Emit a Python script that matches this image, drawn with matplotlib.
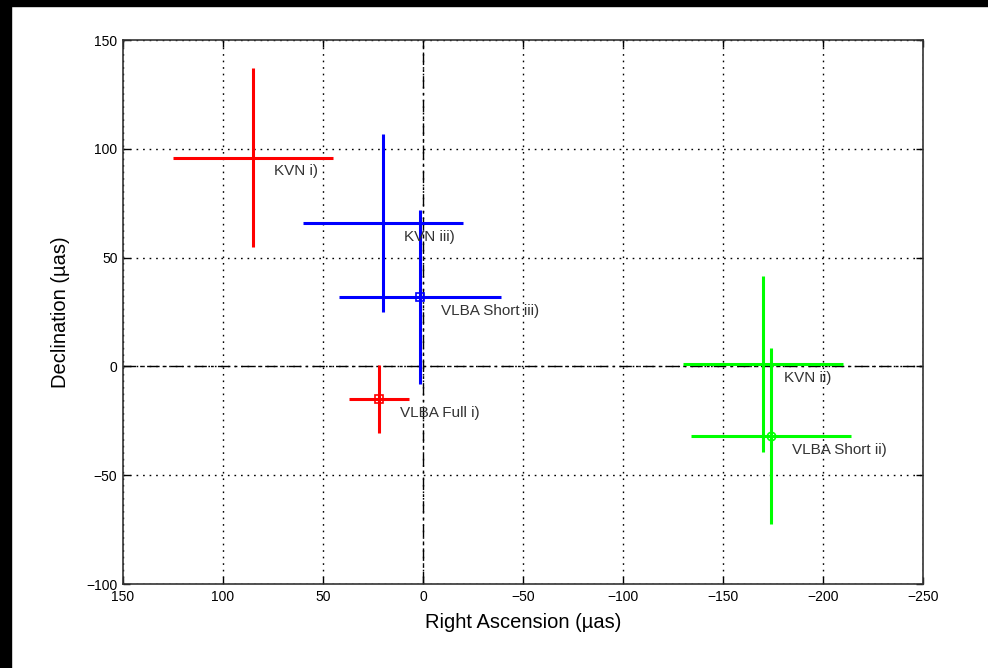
import matplotlib
matplotlib.use("Agg")
import matplotlib.pyplot as plt
from matplotlib.patches import Rectangle

plt.rcParams['font.family'] = ['Liberation Sans', 'DejaVu Sans']

labels = ["KVN i)", "KVN iii)", "VLBA Short iii)", "VLBA Full i)", "KVN ii)", "VLBA Short ii)"]
ra = [85, 20, 1.5, 22, -170, -174]
dec = [96, 66, 32, -15, 1, -32]
ra_err = [40, 40, 40.5, 15, 40, 40]
dec_err = [41, 41, 40, 15.5, 40.5, 40.5]
colors = ["#ff0000", "#0000ff", "#0000ff", "#ff0000", "#00ff00", "#00ff00"]
markers = [None, None, "s", "s", None, "o"]

xticks = [150, 100, 50, 0, -50, -100, -150, -200, -250]
yticks = [-100, -50, 0, 50, 100, 150]

fig = plt.figure(figsize=(9.88, 6.68), dpi=100)
ax = fig.add_axes([123/988, 1-584/668, (923-123)/988, (584-40)/668])

ax.axhline(0, color='black', linestyle=(0, (9, 3, 2, 3)), linewidth=1.0, zorder=1)
ax.axvline(0, color='black', linestyle=(0, (9, 3, 2, 3)), linewidth=1.0, zorder=1)

for i in range(len(labels)):
    ax.errorbar(ra[i], dec[i], xerr=ra_err[i], yerr=dec_err[i], color=colors[i],
                linewidth=2.2, elinewidth=2.2, capsize=0, fmt='none', zorder=3)
    if markers[i]:
        ax.plot(ra[i], dec[i], marker=markers[i], markersize=6, markerfacecolor='none',
                markeredgecolor=colors[i], markeredgewidth=1.2, linestyle='none', zorder=4)
    ax.annotate(labels[i], (ra[i], dec[i]), xytext=(15, -10), textcoords='offset points',
                ha='left', va='center', fontsize=11, color='#333333', zorder=5)

ax.set_xlim(150, -250)
ax.set_ylim(-100, 150)
ax.set_xticks(xticks)
ax.set_yticks(yticks)
ax.set_xticklabels([str(t).replace('-', '\u2212') for t in xticks])
ax.set_yticklabels([str(t).replace('-', '\u2212') for t in yticks])
ax.grid(True, color='black', linestyle=(0, (1.2, 3.5)), linewidth=1.0)
ax.set_axisbelow(True)
ax.tick_params(direction='in', top=True, right=True, labelsize=10, length=5, width=1.0, pad=4)
for s in ax.spines.values():
    s.set_linewidth(1.2)
    s.set_color('#333333')

ax.set_xlabel("Right Ascension (\u00b5as)", fontsize=14.5, labelpad=7)
ax.set_ylabel("Declination (\u00b5as)", fontsize=14.5, labelpad=12)

fig.patches.append(Rectangle((0, 1-6/668), 1, 6/668, transform=fig.transFigure, color='black', zorder=10))
fig.patches.append(Rectangle((0, 0), 11/988, 1, transform=fig.transFigure, color='black', zorder=10))

fig.savefig("out.png", dpi=100)
